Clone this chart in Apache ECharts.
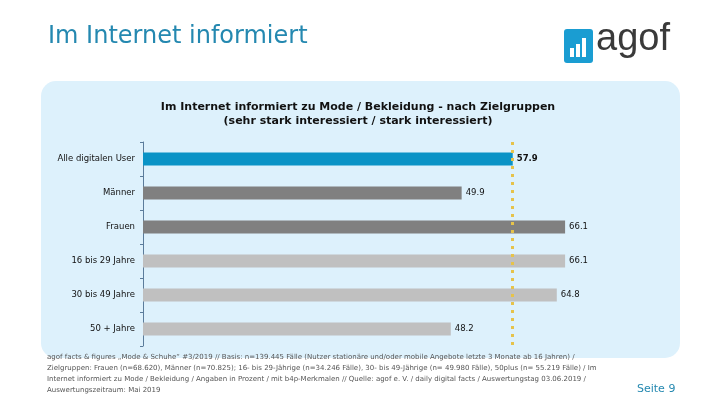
<!DOCTYPE html>
<html><head><meta charset="utf-8">
<script src="https://cdn.jsdelivr.net/npm/echarts@6/dist/echarts.min.js"></script>
<style>html,body{margin:0;padding:0;background:#fff}#c{width:720px;height:405px}</style>
</head><body><div id="c"></div>
<script>
const categories = ["Alle digitalen User","Männer","Frauen","16 bis 29 Jahre","30 bis 49 Jahre","50 + Jahre"];
const values = [57.9, 49.9, 66.1, 66.1, 64.8, 48.2];
const barColors = ["#0a93c6","#808080","#808080","#c0c0c0","#c0c0c0","#c0c0c0"];
const averageValue = 57.9;
const pageTitle = "Im Internet informiert";
const chartTitle = "Im Internet informiert zu Mode / Bekleidung - nach Zielgruppen\n(sehr stark interessiert / stark interessiert)";
const footerLines = [
 "agof facts & figures „Mode & Schuhe“ #3/2019 // Basis: n=139.445 Fälle (Nutzer stationäre und/oder mobile Angebote letzte 3 Monate ab 16 Jahren) /",
 "Zielgruppen: Frauen (n=68.620), Männer (n=70.825); 16- bis 29-Jährige (n=34.246 Fälle), 30- bis 49-Jährige (n= 49.980 Fälle), 50plus (n= 55.219 Fälle) / Im",
 "Internet informiert zu Mode / Bekleidung / Angaben in Prozent / mit b4p-Merkmalen // Quelle: agof e. V. / daily digital facts / Auswertungstag 03.06.2019 /",
 "Auswertungszeitraum: Mai 2019"
];
const pageLabel = "Seite 9";

const chart = echarts.init(document.getElementById('c'), null, {renderer:'canvas'});
const data = values.map((v,i)=>({
  value:v,
  itemStyle:{color:barColors[i]},
  label: i===0 ? {fontWeight:'bold'} : {}
}));
chart.setOption({
  animation:false,
  graphic:[
    {type:'rect', z:-10, shape:{x:41,y:81,width:639,height:277,r:15}, style:{fill:'#ddf1fc'}},
    {type:'text', left:48, top:25, style:{text:pageTitle, font:'24px "DejaVu Sans"', fill:'#2488b0'}},
    {type:'text', x:358, y:100, style:{text:chartTitle, textAlign:'center', textVerticalAlign:'top', font:'bold 11px "DejaVu Sans"', fill:'#111', lineHeight:14}},
    {type:'group', left:564, top:29, children:[
      {type:'rect', shape:{x:0,y:0,width:29,height:34,r:3}, style:{fill:'#1a9dd2'}},
      {type:'rect', shape:{x:6,y:19,width:4,height:9}, style:{fill:'#fff'}},
      {type:'rect', shape:{x:12,y:15,width:4,height:13}, style:{fill:'#fff'}},
      {type:'rect', shape:{x:18,y:9,width:4,height:19}, style:{fill:'#fff'}}
    ]},
    {type:'text', left:596, top:21, style:{text:'agof', font:'38px "Liberation Sans"', fill:'#3a3a3a'}},
    {type:'text', left:47, top:352, style:{text:footerLines.join('\n'), font:'7px "DejaVu Sans"', fill:'#555', lineHeight:11}},
    {type:'text', left:637, top:384, style:{text:pageLabel, font:'11px "DejaVu Sans"', fill:'#2488b0'}}
  ],
  grid:{left:143, top:142, width:447, height:204},
  xAxis:{type:'value', min:0, max:70, show:false},
  yAxis:{type:'category', inverse:true, data:categories,
    axisLine:{show:true, lineStyle:{color:'#5b7c9b', width:1}},
    axisTick:{show:true, length:3, lineStyle:{color:'#5b7c9b'}},
    axisLabel:{color:'#111', fontSize:8.5, fontFamily:'DejaVu Sans', margin:8}
  },
  series:[{
    type:'bar', data:data, barWidth:13,
    label:{show:true, position:'right', distance:4, color:'#111', fontSize:8.5, fontFamily:'DejaVu Sans', formatter:p=>p.value.toFixed(1)},
    markLine:{symbol:'none', silent:true, label:{show:false},
      lineStyle:{type:[3,5], color:'#e6c34a', width:3},
      data:[{xAxis:averageValue}]}
  }]
});
</script></body></html>
